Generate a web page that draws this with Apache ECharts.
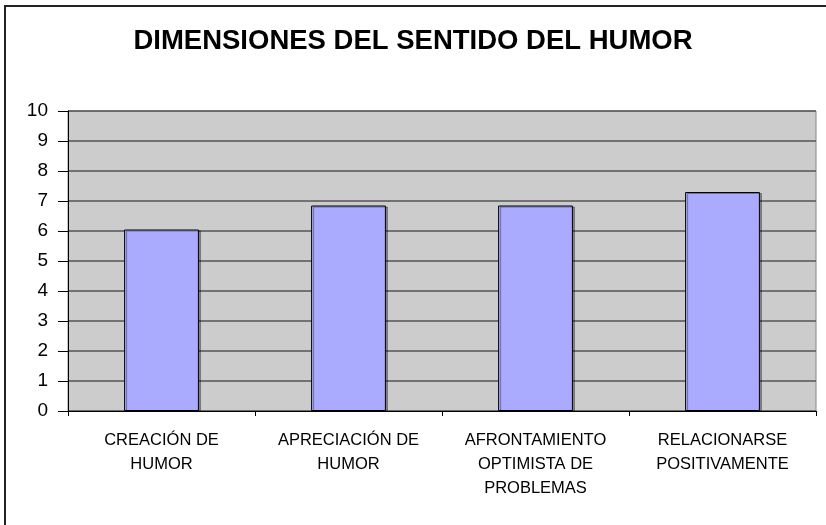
<!DOCTYPE html>
<html>
<head>
    <meta charset="utf-8">
    <title>chart</title>
    <script src="https://cdn.jsdelivr.net/npm/echarts@6/dist/echarts.min.js"></script>
    <style>
        html, body { margin: 0; padding: 0; background: #fff; }
        #main { width: 826px; height: 525px; }
    </style>
</head>
<body>
<div id="main"></div>
<script>
    // datos
    var categorias = ['CREACIÓN DE\nHUMOR', 'APRECIACIÓN DE\nHUMOR', 'AFRONTAMIENTO\nOPTIMISTA DE\nPROBLEMAS', 'RELACIONARSE\nPOSITIVAMENTE'];
    var valores = [6.05, 6.85, 6.85, 7.3];
    var titulo = 'DIMENSIONES DEL SENTIDO DEL HUMOR';

    var chart = echarts.init(document.getElementById('main'));
    chart.setOption({
        animation: false,
        textStyle: { fontFamily: 'Liberation Sans, Arial, sans-serif' },
        title: {
            text: titulo,
            left: 'center',
            top: 22,
            textStyle: { fontSize: 27.5, fontWeight: 'bold', color: '#000' }
        },
        graphic: [{
            type: 'rect',
            shape: { x: 5, y: 6, width: 840, height: 540 },
            style: { fill: 'none', stroke: '#222', lineWidth: 2 },
            silent: true
        }],
        grid: {
            left: 68, right: 10, top: 111, bottom: 114,
            show: true,
            backgroundColor: '#cccccc',
            borderColor: '#888',
            borderWidth: 1
        },
        xAxis: {
            type: 'category',
            data: categorias,
            axisLine: { lineStyle: { color: '#000', width: 1 } },
            axisTick: { show: true, length: 5, lineStyle: { color: '#000' } },
            axisLabel: { fontSize: 16.5, lineHeight: 24, margin: 17, color: '#000', interval: 0 }
        },
        yAxis: {
            type: 'value',
            min: 0, max: 10, interval: 1,
            axisLine: { show: true, lineStyle: { color: '#000', width: 1 } },
            axisTick: { show: true, length: 10, lineStyle: { color: '#000' } },
            axisLabel: { fontSize: 19, margin: 20, color: '#000' },
            splitLine: { lineStyle: { color: '#555', width: 1.5 } }
        },
        series: [{
            type: 'bar',
            data: valores,
            barWidth: '40%',
            itemStyle: {
                color: '#aaaaff',
                borderColor: '#000',
                borderWidth: 1,
                shadowColor: 'rgba(0,0,0,0.35)',
                shadowOffsetX: 2,
                shadowOffsetY: 1
            }
        }]
    });
</script>
</body>
</html>
